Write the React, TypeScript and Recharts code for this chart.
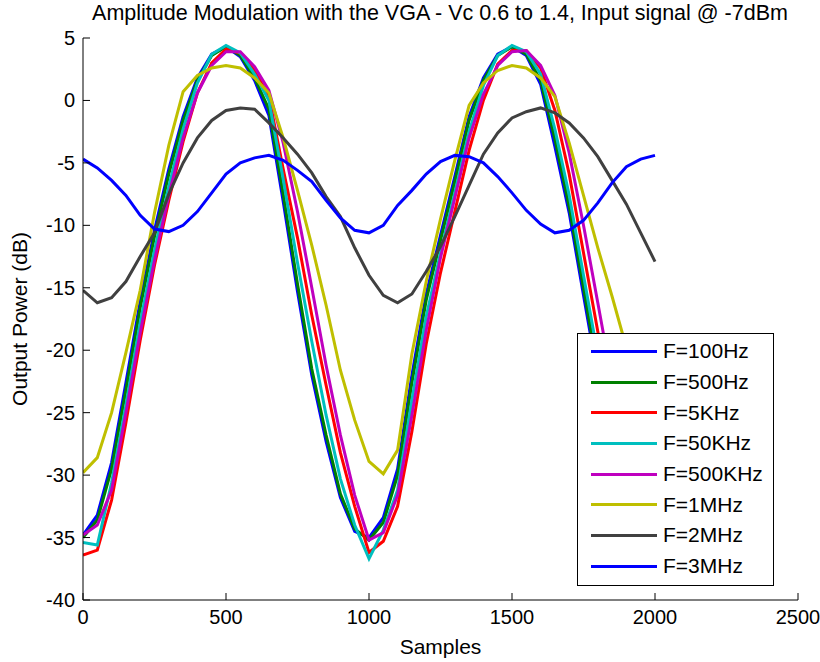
import React from 'react';
import { LineChart, Line, XAxis, YAxis } from 'recharts';

const SAMPLES = [
  0, 50, 100, 150, 200, 250, 300, 350, 400, 450, 500, 550, 600, 650, 700, 750, 800, 850, 900, 950,
  1000, 1050, 1100, 1150, 1200, 1250, 1300, 1350, 1400, 1450, 1500, 1550, 1600, 1650, 1700, 1750,
  1800, 1850, 1900, 1950, 2000,
];

const F100HZ = [
  -34.8, -33.2, -29.0, -22.6, -16.1, -10.4, -5.5, -1.3, 1.8, 3.7, 4.3, 3.5, 1.6, -1.2, -8.1, -15.3,
  -22.0, -27.3, -31.8, -34.5, -35.0, -33.4, -29.5, -22.0, -15.5, -10.8, -6.1, -1.3, 1.8, 3.7, 4.3,
  3.6, 1.3, -3.7, -9.0, -15.6, -22.1, -27.6, -32.1, -34.6, -35.2,
];
const F500HZ = [
  -35.0, -33.6, -29.5, -23.2, -16.6, -10.9, -5.9, -1.6, 1.6, 3.6, 4.3, 3.6, 1.8, -0.7, -7.5, -14.7,
  -21.5, -26.8, -31.5, -34.3, -35.2, -33.8, -30.0, -22.6, -16.0, -11.2, -6.5, -1.6, 1.6, 3.6, 4.3,
  3.7, 1.6, -3.1, -8.5, -15.0, -21.6, -27.2, -31.8, -34.5, -35.3,
];
const F5KHZ = [
  -36.4, -36.0, -32.0, -25.8, -19.2, -13.2, -8.0, -3.3, 0.6, 3.0, 4.1, 3.8, 2.4, 0.3, -5.5, -11.0,
  -17.2, -22.8, -28.2, -32.5, -36.2, -35.3, -32.5, -26.5, -19.5, -13.8, -8.9, -4.0, 0.0, 2.9, 4.0,
  4.0, 2.6, -0.8, -5.9, -12.2, -18.5, -24.5, -29.8, -33.6, -35.8,
];
const F50KHZ = [
  -35.4, -35.6, -30.6, -24.4, -17.8, -12.0, -6.9, -2.3, 1.4, 3.7, 4.4, 3.8, 2.1, 0.0, -6.3, -13.0,
  -19.3, -25.2, -30.3, -34.0, -36.7, -34.4, -31.2, -24.0, -17.3, -12.2, -7.4, -2.5, 1.2, 3.6, 4.4,
  3.9, 2.1, -2.3, -7.6, -14.0, -20.4, -26.3, -31.2, -34.6, -36.0,
];
const F500KHZ = [
  -34.8, -34.0, -31.2, -25.0, -18.6, -12.8, -7.6, -3.0, 0.6, 2.8, 3.9, 3.9, 2.7, 0.8, -3.4, -8.9,
  -15.0, -21.2, -26.8, -31.6, -35.2, -34.6, -31.6, -25.2, -18.4, -12.6, -7.8, -3.0, 0.5, 2.8, 3.9,
  4.0, 2.8, 0.4, -4.2, -10.0, -16.2, -22.5, -28.2, -32.6, -35.2,
];
const F1MHZ = [
  -29.8, -28.6, -25.0, -20.2, -15.2, -9.0, -3.6, 0.7, 2.0, 2.6, 2.8, 2.6, 1.8, 0.6, -3.0, -7.2,
  -11.6, -16.4, -21.6, -25.6, -28.9, -29.9, -28.0, -20.3, -14.5, -9.5, -4.8, -0.4, 1.4, 2.4, 2.8,
  2.6, 1.8, 0.3, -3.4, -7.6, -11.8, -15.7, -19.8, -24.5, -28.0,
];
const F2MHZ = [
  -15.2, -16.2, -15.8, -14.5, -12.5, -10.6, -7.5, -5.0, -3.0, -1.6, -0.8, -0.6, -0.7, -1.8, -3.0,
  -4.3, -5.8, -7.7, -9.3, -11.8, -14.0, -15.6, -16.2, -15.5, -13.7, -11.7, -9.3, -6.8, -4.3, -2.6,
  -1.4, -0.9, -0.6, -1.0, -1.8, -3.0, -4.5, -6.4, -8.3, -10.6, -12.9,
];
const F3MHZ = [
  -4.7, -5.4, -6.4, -7.6, -9.2, -10.3, -10.5, -10.0, -8.9, -7.4, -5.9, -5.0, -4.6, -4.4, -4.8, -5.6,
  -6.5, -8.0, -9.4, -10.4, -10.6, -10.0, -8.4, -7.2, -5.9, -4.9, -4.4, -4.5, -5.0, -6.1, -7.4, -8.8,
  -9.9, -10.6, -10.4, -9.6, -8.2, -6.6, -5.3, -4.7, -4.4,
];

const X_TICKS = [0, 500, 1000, 1500, 2000, 2500];
const Y_TICKS = [-40, -35, -30, -25, -20, -15, -10, -5, 0, 5];

const SERIES = [
  { key: 'f100', label: 'F=100Hz', color: '#0000ff', values: F100HZ },
  { key: 'f500', label: 'F=500Hz', color: '#008000', values: F500HZ },
  { key: 'f5k', label: 'F=5KHz', color: '#ff0000', values: F5KHZ },
  { key: 'f50k', label: 'F=50KHz', color: '#00bfbf', values: F50KHZ },
  { key: 'f500k', label: 'F=500KHz', color: '#bf00bf', values: F500KHZ },
  { key: 'f1m', label: 'F=1MHz', color: '#bfbf00', values: F1MHZ },
  { key: 'f2m', label: 'F=2MHz', color: '#404040', values: F2MHZ },
  { key: 'f3m', label: 'F=3MHz', color: '#0000ff', values: F3MHZ },
];

const FONT = '"Liberation Sans", Arial, sans-serif';
const FS_TICK = 20;
const FS_TEXT = 21;
const GAP = 8; // tickMargin, also used to find the axis line in the tick renderers
const TICK_LEN = 7;

const rows = SAMPLES.map((s, i) => {
  const r: Record<string, number> = { s };
  for (const sr of SERIES) r[sr.key] = sr.values[i];
  return r;
});

const BottomTick = ({ x, y, payload }: any) => {
  const ay = y - GAP;
  return (
    <g>
      <line x1={x} x2={x} y1={ay} y2={ay - TICK_LEN} stroke="#000" />
      <text x={x} y={y + 2} textAnchor="middle" dominantBaseline="hanging" fontSize={FS_TICK} fontFamily={FONT} fill="#000">
        {payload.value}
      </text>
    </g>
  );
};

const LeftTick = ({ x, y, payload }: any) => {
  const ax = x + GAP;
  return (
    <g>
      <line x1={ax} x2={ax + TICK_LEN} y1={y} y2={y} stroke="#000" />
      <text x={x} y={y} textAnchor="end" dominantBaseline="central" fontSize={FS_TICK} fontFamily={FONT} fill="#000">
        {payload.value}
      </text>
    </g>
  );
};

const TopTick = ({ x, y }: any) => (
  <line x1={x} x2={x} y1={y} y2={y + TICK_LEN} stroke="#000" />
);

const RightTick = ({ x, y }: any) => (
  <line x1={x} x2={x - TICK_LEN} y1={y} y2={y} stroke="#000" />
);

export default function App() {
  return (
    <div style={{ position: 'absolute', left: 0, top: 0, width: 820, height: 662, background: '#fff', fontFamily: FONT }}>
      <LineChart width={820} height={662} data={rows} margin={{ top: 38, right: 22, bottom: 22, left: 0 }}>
        <XAxis
          dataKey="s"
          type="number"
          domain={[0, 2500]}
          ticks={X_TICKS}
          allowDataOverflow
          height={40}
          tickSize={0}
          tickMargin={GAP}
          tick={<BottomTick />}
          axisLine={{ stroke: '#000' }}
          label={{ value: 'Samples', position: 'insideBottom', offset: -14, fontSize: FS_TEXT, fontFamily: FONT, fill: '#000' }}
        />
        <XAxis
          xAxisId="top"
          orientation="top"
          type="number"
          domain={[0, 2500]}
          ticks={X_TICKS}
          allowDataOverflow
          height={0}
          tickSize={0}
          tickMargin={0}
          tick={<TopTick />}
          axisLine={{ stroke: '#000' }}
        />
        <YAxis
          type="number"
          domain={[-40, 5]}
          ticks={Y_TICKS}
          allowDataOverflow
          width={83}
          tickSize={0}
          tickMargin={GAP}
          tick={<LeftTick />}
          axisLine={{ stroke: '#000' }}
          label={{ value: 'Output Power (dB)', angle: -90, position: 'insideLeft', offset: 20, fontSize: FS_TEXT, fontFamily: FONT, fill: '#000', style: { textAnchor: 'middle' } }}
        />
        <YAxis
          yAxisId="right"
          orientation="right"
          type="number"
          domain={[-40, 5]}
          ticks={Y_TICKS}
          allowDataOverflow
          width={0}
          tickSize={0}
          tickMargin={0}
          tick={<RightTick />}
          axisLine={{ stroke: '#000' }}
        />
        {SERIES.map((sr) => (
          <Line
            key={sr.key}
            dataKey={sr.key}
            type="linear"
            stroke={sr.color}
            strokeWidth={3}
            dot={false}
            isAnimationActive={false}
          />
        ))}
      </LineChart>
      <div
        style={{
          position: 'absolute',
          left: 0,
          top: 1,
          width: 880,
          textAlign: 'center',
          fontSize: 21.5,
          color: '#000',
          whiteSpace: 'nowrap',
        }}
      >
        Amplitude Modulation with the VGA - Vc 0.6 to 1.4, Input signal @ -7dBm
      </div>
      <div
        style={{
          position: 'absolute',
          left: 577,
          top: 333,
          width: 197,
          height: 253,
          background: '#fff',
          border: '1px solid #000',
          boxSizing: 'border-box',
          paddingTop: 2,
        }}
      >
        {SERIES.map((sr) => (
          <div key={sr.key} style={{ display: 'flex', alignItems: 'center', height: 30.7 }}>
            <span style={{ display: 'inline-block', marginLeft: 13, width: 66, height: 3, background: sr.color }} />
            <span style={{ marginLeft: 6, fontSize: FS_TEXT, color: '#000' }}>{sr.label}</span>
          </div>
        ))}
      </div>
    </div>
  );
}
